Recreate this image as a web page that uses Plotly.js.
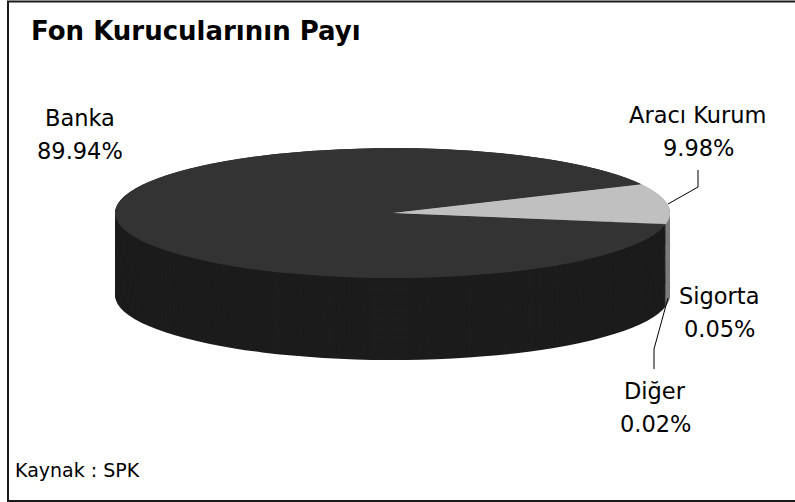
<!DOCTYPE html>
<html><head><meta charset="utf-8">
<script src="https://cdn.plot.ly/plotly-3.0.1.min.js"></script>
<style>html,body{margin:0;padding:0;background:#fff}</style>
</head><body><div id="chart" style="width:795px;height:502px"></div>
<script>
// ---- data ----
const categories = ['Banka', 'Aracı Kurum', 'Sigorta', 'Diğer'];
const shares = [89.94, 9.98, 0.05, 0.02];
const valueLabels = ['89.94%', '9.98%', '0.05%', '0.02%'];
const topColors = ['#333333', '#c0c0c0', '#9a9a9a', '#6a6a6a'];
const sideColors = ['#1c1c1c', '#7c7c7c', '#5a5a5a', '#3a3a3a'];
const titleText = 'Fon Kurucularının Payı';
const sourceText = 'Kaynak : SPK';

// ---- geometry / style ----
const W = 795, H = 502;
const R = 100;                 // pie radius before the perspective squash
const cx0 = W / 2, cy0 = 140;  // pie centre before the squash
const screenCx = 392.5, screenCy = 213, rx = 277.5, ry = 65, depth = 82;
const sx = rx / R, sy = ry / R;
const depthPre = depth / sy;
const step = 1.5;
const fx = p => p / W, fy = p => 1 - p / H;

function pieTrace(offset, colors) {
  const cy = cy0 + offset;
  return {
    type: 'pie', labels: categories, values: shares, sort: false,
    direction: 'clockwise', rotation: 100,
    textinfo: 'none', hoverinfo: 'skip', showlegend: false,
    marker: {colors: colors, line: {width: 0}},
    domain: {x: [fx(cx0 - R), fx(cx0 + R)], y: [1 - (cy + R) / H, 1 - (cy - R) / H]}
  };
}

const traces = [];
for (let off = depthPre; off > 0; off -= step) traces.push(pieTrace(off, sideColors));
traces.push(pieTrace(0, topColors));

const labelFont = {family: 'DejaVu Sans', size: 22.5, color: '#000'};
const txt = (t, x, y) => ({
  text: t, xref: 'paper', yref: 'paper', x: fx(x), y: fy(y),
  xanchor: 'center', yanchor: 'middle', showarrow: false, font: labelFont
});
// label placement: [category index, centre x, name y, value y]
const labelPos = [[0, 80, 118, 151], [1, 698, 115, 148], [2, 719, 296, 329], [3, 655, 391, 424]];
const labelAnns = [];
labelPos.forEach(([i, x, y1, y2]) => {
  labelAnns.push(txt(categories[i], x, y1));
  labelAnns.push(txt(valueLabels[i], x, y2));
});

const layout = {
  width: W, height: H, margin: {l: 0, r: 0, t: 0, b: 0},
  paper_bgcolor: '#fff', plot_bgcolor: '#fff', showlegend: false,
  annotations: [
    {text: '<b>' + titleText + '</b>', xref: 'paper', yref: 'paper', x: fx(29), y: fy(31),
     xanchor: 'left', yanchor: 'middle', showarrow: false,
     font: {family: 'DejaVu Sans', size: 26, color: '#000'}},
    ...labelAnns,
    {text: sourceText, xref: 'paper', yref: 'paper', x: fx(13), y: fy(470),
     xanchor: 'left', yanchor: 'middle', showarrow: false,
     font: {family: 'DejaVu Sans', size: 19, color: '#000'}}
  ],
  shapes: [
    {type: 'rect', xref: 'paper', yref: 'paper', x0: fx(8), x1: fx(800), y0: fy(501), y1: fy(1.5),
     line: {color: '#1a1a1a', width: 2}, fillcolor: 'rgba(0,0,0,0)'},
    {type: 'path', xref: 'paper', yref: 'paper',
     path: 'M' + fx(668) + ',' + fy(204) + 'L' + fx(698) + ',' + fy(187) + 'L' + fx(698) + ',' + fy(170),
     line: {color: '#000', width: 1}},
    {type: 'path', xref: 'paper', yref: 'paper',
     path: 'M' + fx(668) + ',' + fy(298) + 'L' + fx(654) + ',' + fy(349) + 'L' + fx(654) + ',' + fy(369),
     line: {color: '#000', width: 1}}
  ]
};

Plotly.newPlot('chart', traces, layout, {staticPlot: true}).then(() => {
  const g = document.querySelector('.pielayer');
  if (g) g.setAttribute('transform',
    'translate(' + screenCx + ',' + screenCy + ') scale(' + sx + ',' + sy + ') translate(' + (-cx0) + ',' + (-cy0) + ')');
});
</script></body></html>
